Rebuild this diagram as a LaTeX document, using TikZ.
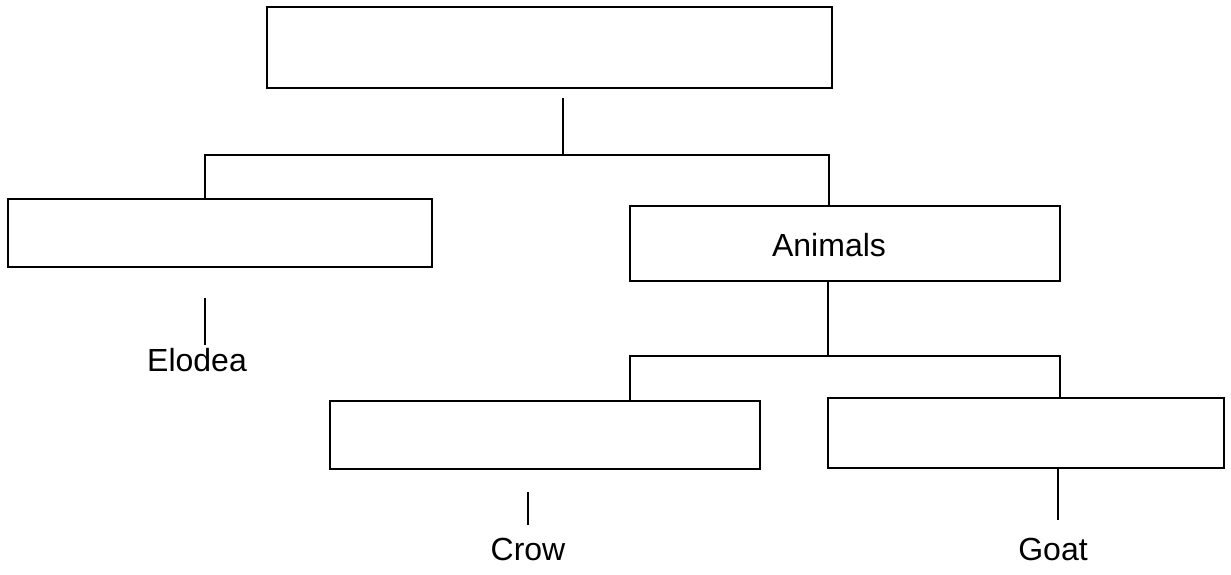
\documentclass[tikz,border=0pt]{standalone}
\usepackage{fontspec}
\setmainfont{Liberation Sans}
\begin{document}
\begin{tikzpicture}[x=1pt,y=-1pt,
  box/.style={draw,line width=2pt,rectangle,inner sep=0pt},
  conn/.style={line width=2pt},
  lbl/.style={font=\fontsize{32}{36}\selectfont,anchor=base,inner sep=0pt}]
\useasboundingbox (0,0) rectangle (1231,574);
\node[box,minimum width=565pt,minimum height=81pt] (top) at (549.5,47.5) {};
\node[box,minimum width=424pt,minimum height=68pt] (plants) at (220,233) {};
\node[box,minimum width=430pt,minimum height=75pt] (anim) at (845,243.5) {};
\node[box,minimum width=430pt,minimum height=68pt] (crowbox) at (545,435) {};
\node[box,minimum width=396pt,minimum height=70pt] (goatbox) at (1026,433) {};
\node[lbl] (animtxt) at (829,256) {Animals};
\node[lbl] (elodea) at (197,371) {Elodea};
\node[lbl] (crow) at (528,560) {Crow};
\node[lbl] (goat) at (1053,560) {Goat};
\coordinate (t1) at (563,98);
\coordinate (j0) at (563,155);
\coordinate (jl) at (205,155);
\coordinate (jr) at (829,155);
\coordinate (e1) at (205,298);
\coordinate (e2) at (205,345);
\coordinate (a1) at (828,356);
\coordinate (b1) at (630,356);
\coordinate (b2) at (1060,356);
\coordinate (c1) at (528,492);
\coordinate (c2) at (528,525);
\coordinate (g1) at (1058,520);
\draw[conn] (t1) -- (j0);
\draw[conn] (plants.north -| jl) -- (jl) -- (jr) -- (anim.north -| jr);
\draw[conn] (e1) -- (e2);
\draw[conn] (anim.south -| a1) -- (a1);
\draw[conn] (crowbox.north -| b1) -- (b1) -- (b2) -- (goatbox.north -| b2);
\draw[conn] (c1) -- (c2);
\draw[conn] (goatbox.south -| g1) -- (g1);
\end{tikzpicture}
\end{document}
